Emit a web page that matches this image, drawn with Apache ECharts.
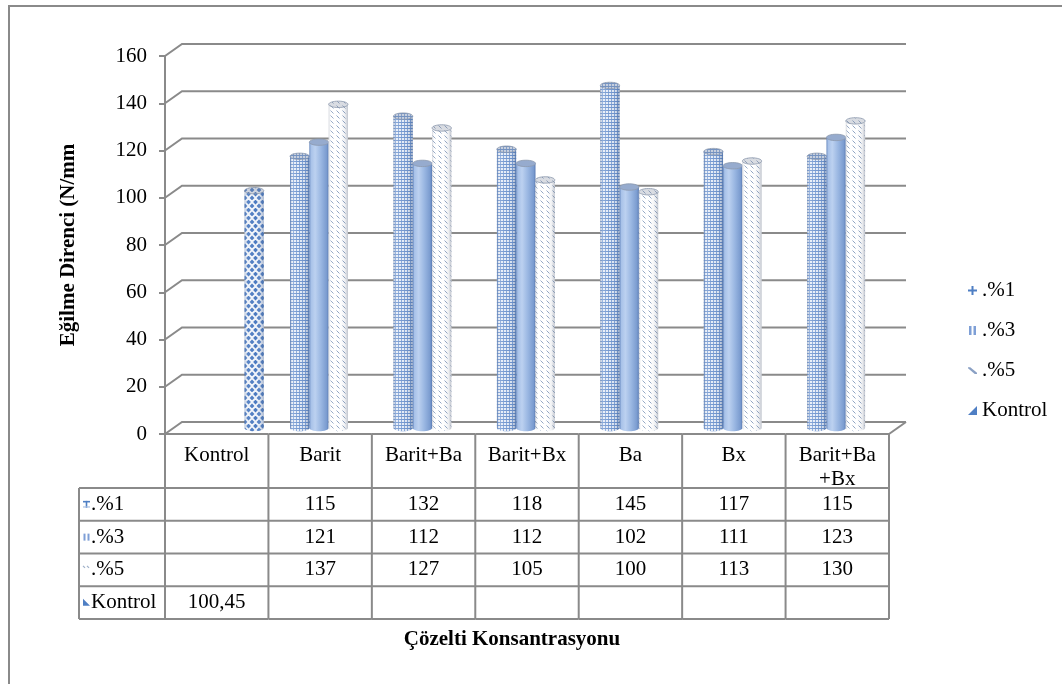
<!DOCTYPE html>
<html>
<head>
<meta charset="utf-8">
<script src="https://cdn.jsdelivr.net/npm/echarts@6/dist/echarts.min.js"></script>
<style>
  html, body { margin: 0; padding: 0; background: #ffffff; }
  #chart { width: 1062px; height: 684px; }
</style>
</head>
<body>
<div id="chart"></div>
<script>
// Flexural strength by solution type and concentration
const categories = ['Kontrol', 'Barit', 'Barit+Ba', 'Barit+Bx', 'Ba', 'Bx', 'Barit+Ba+Bx'];
const headerLabels = ['Kontrol', 'Barit', 'Barit+Ba', 'Barit+Bx', 'Ba', 'Bx', 'Barit+Ba\n+Bx'];
const seriesNames = ['.%1', '.%3', '.%5', 'Kontrol'];
const pct1 = [null, 115, 132, 118, 145, 117, 115];
const pct3 = [null, 121, 112, 112, 102, 111, 123];
const pct5 = [null, 137, 127, 105, 100, 113, 130];
const kontrol = [100.45, null, null, null, null, null, null];
const yTicks = [0, 20, 40, 60, 80, 100, 120, 140, 160];

const yAxisTitle = 'Eğilme Direnci (N/mm';
const xAxisTitle = 'Çözelti Konsantrasyonu';

const FONT = '"Liberation Serif", "Times New Roman", serif';
const LINE = '#8a8a8a';

// 3D look: back wall offset and bar depth offset
const WALL_DX = 17, WALL_DY = -12;
const BAR_DX = 8.5, BAR_DY = -6;
const BAR_FRAC = 0.1866;

// table geometry
const HEADER_H = 54, ROW_H = 32.75, ROWHEAD_W = 86;

function tile(w, h, draw) {
  const c = document.createElement('canvas');
  c.width = w; c.height = h;
  draw(c.getContext('2d'));
  return c;
}
const gridTile = tile(3, 3, g => {
  g.fillStyle = '#e6edf8'; g.fillRect(0, 0, 3, 3);
  g.fillStyle = '#6f95cf'; g.fillRect(0, 2, 3, 1);
  g.fillStyle = '#86a6d8'; g.fillRect(2, 0, 1, 2);
});
const dashTile = tile(6, 5, g => {
  g.fillStyle = '#ffffff'; g.fillRect(0, 0, 6, 5);
  g.strokeStyle = '#90a4c2'; g.lineWidth = 1;
  g.beginPath(); g.moveTo(0.5, 0.5); g.lineTo(3.5, 3.5); g.stroke();
});
const diamondTile = tile(7, 8, g => {
  g.fillStyle = '#f0f4fa'; g.fillRect(0, 0, 7, 8);
  g.fillStyle = '#4a79c0';
  const d = (x, y) => {
    g.beginPath(); g.moveTo(x, y - 2.4); g.lineTo(x + 2.4, y); g.lineTo(x, y + 2.4); g.lineTo(x - 2.4, y);
    g.closePath(); g.fill();
  };
  d(3.5, 2); d(0, 6); d(7, 6);
});
const pat = c => ({ image: c, repeat: 'repeat' });

function hgrad(stops) {
  return { type: 'linear', x: 0, y: 0, x2: 1, y2: 0,
    colorStops: stops.map(s => ({ offset: s[0], color: s[1] })) };
}

const looks = [
  { body: pat(gridTile),
    shade: [[0, 'rgba(50,80,130,0.4)'], [0.12, 'rgba(255,255,255,0.2)'], [0.4, 'rgba(255,255,255,0.05)'], [0.8, 'rgba(50,80,130,0.1)'], [1, 'rgba(50,80,130,0.45)']],
    cap: pat(gridTile), color: '#4f7fc4' },
  { body: hgrad([[0, '#5f82bb'], [0.08, '#a7c1e8'], [0.3, '#bcd1f0'], [0.6, '#9ab7e2'], [0.9, '#7a9bcf'], [1, '#5b7cb4']]),
    shade: [[0, 'rgba(0,0,0,0)'], [1, 'rgba(0,0,0,0)']],
    cap: '#9fb9e2', color: '#7e9fd6' },
  { body: pat(dashTile),
    shade: [[0, 'rgba(120,130,150,0.35)'], [0.12, 'rgba(255,255,255,0.1)'], [0.5, 'rgba(255,255,255,0)'], [0.85, 'rgba(120,130,150,0.12)'], [1, 'rgba(110,120,140,0.45)']],
    cap: pat(dashTile), color: '#8aa0c4' },
  { body: pat(diamondTile),
    shade: [[0, 'rgba(60,90,140,0.35)'], [0.15, 'rgba(255,255,255,0.1)'], [0.6, 'rgba(255,255,255,0)'], [1, 'rgba(60,90,140,0.4)']],
    cap: pat(diamondTile), color: '#4f7fc4' }
];

function cylinder(s) {
  const look = looks[s];
  return function (params, api) {
    const cat = api.value(0), val = api.value(1);
    const band = api.size([1, 0])[0];
    const bw = band * BAR_FRAC;
    const topPt = api.coord([cat, val]);
    const basePt = api.coord([cat, 0]);
    const l = topPt[0] + BAR_DX - 2 * bw + s * bw, r = l + bw;
    const yt = topPt[1] + BAR_DY, yb = basePt[1] + BAR_DY;
    const rx = bw / 2, ry = 3.2, cx = l + rx;
    const pts = [[l, yt], [l, yb]];
    for (let k = 1; k < 16; k++) {
      const a = Math.PI - Math.PI * k / 16;
      pts.push([cx + rx * Math.cos(a), yb + ry * Math.sin(a)]);
    }
    pts.push([r, yb], [r, yt]);
    return {
      type: 'group',
      children: [
        { type: 'polygon', shape: { points: pts }, style: { fill: look.body } },
        { type: 'polygon', shape: { points: pts }, style: { fill: hgrad(look.shade) } },
        { type: 'ellipse', shape: { cx: cx, cy: yt, rx: rx, ry: ry }, style: { fill: look.cap } },
        { type: 'ellipse', shape: { cx: cx, cy: yt, rx: rx, ry: ry },
          style: { fill: 'rgba(130,140,160,0.3)', stroke: '#8d99ad', lineWidth: 0.8 } }
      ]
    };
  };
}

function wallLines(params, api) {
  const cs = params.coordSys;
  const v = api.value(1);
  const y = api.coord([0, v])[1];
  const x0 = cs.x, x1 = cs.x + cs.width;
  const children = [{
    type: 'polyline',
    shape: { points: [[x0, y], [x0 + WALL_DX, y + WALL_DY], [x1 + WALL_DX, y + WALL_DY]] },
    style: { stroke: LINE, lineWidth: 2, fill: null }
  }];
  if (v === 0) {
    children.push({
      type: 'line',
      shape: { x1: x1, y1: y, x2: x1 + WALL_DX, y2: y + WALL_DY },
      style: { stroke: LINE, lineWidth: 2 }
    });
  }
  return { type: 'group', children: children };
}

const rowValues = [pct1, pct3, pct5, kontrol];
const fmt = v => (v == null ? '' : String(v).replace('.', ','));

function rowIcon(k, x, y) {
  const c = looks[k].color;
  if (k === 0) {
    return { type: 'group', children: [
      { type: 'rect', shape: { x: x, y: y - 3.5, width: 7, height: 1.6 }, style: { fill: c } },
      { type: 'rect', shape: { x: x + 2.7, y: y - 3.5, width: 1.6, height: 7 }, style: { fill: c } },
      { type: 'rect', shape: { x: x, y: y + 2, width: 7, height: 1.2 }, style: { fill: '#a8bfe3' } }
    ] };
  }
  if (k === 1) {
    return { type: 'group', children: [
      { type: 'rect', shape: { x: x + 0.5, y: y - 3.5, width: 2, height: 7 }, style: { fill: c } },
      { type: 'rect', shape: { x: x + 4.5, y: y - 3.5, width: 2, height: 7 }, style: { fill: c } }
    ] };
  }
  if (k === 2) {
    return { type: 'group', children: [
      { type: 'line', shape: { x1: x, y1: y - 4, x2: x + 2, y2: y - 2 }, style: { stroke: '#9fb0c9', lineWidth: 1.2 } },
      { type: 'line', shape: { x1: x + 4, y1: y - 4, x2: x + 6, y2: y - 2 }, style: { stroke: '#9fb0c9', lineWidth: 1.2 } }
    ] };
  }
  return { type: 'polygon', shape: { points: [[x, y - 4], [x + 7, y + 3], [x, y + 3]] }, style: { fill: c } };
}

function tableCells(params, api) {
  const i = params.dataIndex;
  const band = api.size([1, 0])[0];
  const p = api.coord([i, 0]);
  const xl = p[0] - band / 2, xr = p[0] + band / 2;
  const top = p[1];
  const rowTop = top + HEADER_H;
  const bottom = rowTop + ROW_H * rowValues.length;
  const stroke = { stroke: LINE, lineWidth: 2 };
  const ch = [];
  ch.push({ type: 'line', shape: { x1: xl, y1: top, x2: xr, y2: top }, style: stroke });
  ch.push({ type: 'line', shape: { x1: xr, y1: top, x2: xr, y2: bottom }, style: stroke });
  for (let k = 0; k <= rowValues.length; k++) {
    const y = rowTop + ROW_H * k;
    ch.push({ type: 'line', shape: { x1: xl, y1: y, x2: xr, y2: y }, style: stroke });
  }
  ch.push({ type: 'text', x: p[0], y: top + 9, style: {
    text: headerLabels[i], fill: '#000', fontSize: 21, fontFamily: FONT,
    align: 'center', verticalAlign: 'top', lineHeight: 24 } });
  rowValues.forEach((arr, k) => {
    ch.push({ type: 'text', x: p[0], y: rowTop + ROW_H * (k + 0.5), style: {
      text: fmt(arr[i]), fill: '#000', fontSize: 21, fontFamily: FONT,
      align: 'center', verticalAlign: 'middle' } });
  });
  if (i === 0) {
    const xh = xl - ROWHEAD_W;
    ch.push({ type: 'line', shape: { x1: xl, y1: top, x2: xl, y2: bottom }, style: stroke });
    ch.push({ type: 'line', shape: { x1: xh, y1: rowTop, x2: xh, y2: bottom }, style: stroke });
    for (let k = 0; k <= rowValues.length; k++) {
      const y = rowTop + ROW_H * k;
      ch.push({ type: 'line', shape: { x1: xh, y1: y, x2: xl, y2: y }, style: stroke });
    }
    seriesNames.forEach((nm, k) => {
      const yc = rowTop + ROW_H * (k + 0.5);
      ch.push(rowIcon(k, xh + 4, yc));
      ch.push({ type: 'text', x: xh + 12, y: yc, style: {
        text: nm, fill: '#000', fontSize: 21, fontFamily: FONT,
        align: 'left', verticalAlign: 'middle' } });
    });
  }
  return { type: 'group', children: ch };
}

const legendIcons = [
  'path://M3.5,0H5.5V3.5H9V5.5H5.5V9H3.5V5.5H0V3.5H3.5Z',
  'path://M1,0H3.5V9H1Z M5.5,0H8V9H5.5Z',
  'path://M0,3H2L8,8V9H6L0,4Z',
  'path://M9,2V9H2Z'
];

const seriesData = [pct1, pct3, pct5, kontrol].map(arr =>
  arr.map((v, i) => [i, v]).filter(d => d[1] != null));

const chart = echarts.init(document.getElementById('chart'), null, { renderer: 'canvas' });

chart.setOption({
  animation: false,
  backgroundColor: '#ffffff',
  grid: { left: 165, top: 56, width: 724, height: 378 },
  xAxis: {
    type: 'category', data: categories, boundaryGap: true,
    axisLine: { show: false }, axisTick: { show: false }, axisLabel: { show: false },
    splitLine: { show: false }
  },
  yAxis: {
    type: 'value', min: 0, max: 160, interval: 20,
    axisLine: { show: true, lineStyle: { color: LINE, width: 2 } },
    axisTick: { show: true, length: 6, lineStyle: { color: LINE, width: 2 } },
    splitLine: { show: false },
    axisLabel: { margin: 18, color: '#000', fontSize: 21, fontFamily: FONT,
      formatter: v => (yTicks.indexOf(v) >= 0 ? String(v) : '') },
    name: yAxisTitle, nameLocation: 'middle', nameRotate: 90, nameGap: 86,
    nameTextStyle: { color: '#000', fontSize: 21, fontWeight: 'bold', fontFamily: FONT }
  },
  legend: {
    orient: 'vertical', left: 963, top: 275,
    itemWidth: 9, itemHeight: 9, itemGap: 19,
    textStyle: { color: '#000', fontSize: 21, fontFamily: FONT },
    data: seriesNames.map((n, k) => ({ name: n, icon: legendIcons[k] }))
  },
  graphic: [
    { type: 'rect', silent: true, z: -10,
      shape: { x: 9, y: 6, width: 1100, height: 720 },
      style: { fill: 'none', stroke: LINE, lineWidth: 2 } },
    { type: 'text', silent: true, x: 512, y: 640,
      style: { text: xAxisTitle, fill: '#000', font: 'bold 21px ' + FONT, align: 'center', verticalAlign: 'middle' } }
  ],
  series: [
    { type: 'custom', name: 'walls', silent: true, z: 1,
      data: yTicks.map(v => [0, v]), encode: { x: 0, y: 1 }, renderItem: wallLines },
    { type: 'custom', name: 'table', silent: true, z: 4,
      data: categories.map((c, i) => [i, 0]), encode: { x: 0, y: 1 }, renderItem: tableCells },
    ...seriesNames.map((n, s) => ({
      type: 'custom', name: n, z: 3,
      itemStyle: { color: looks[s].color },
      data: seriesData[s], encode: { x: 0, y: 1 },
      renderItem: cylinder(s)
    }))
  ]
});
</script>
</body>
</html>
